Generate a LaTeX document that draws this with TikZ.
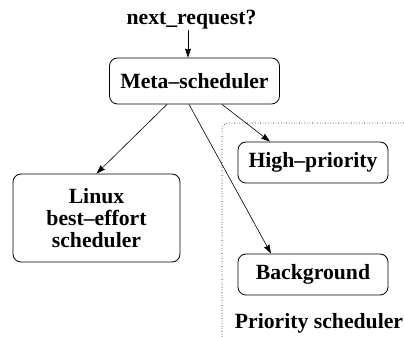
\documentclass[tikz,border=0pt]{standalone}
\usepackage{fontspec}
\setmainfont{Liberation Serif}
\usetikzlibrary{arrows.meta}

\begin{document}
\begin{tikzpicture}[
	x=1pt, y=1pt,
	block/.style={
		rectangle, rounded corners=8pt,
		draw=black, line width=0.8pt,
		inner sep=0pt, align=center,
		font=\fontsize{21.7}{21.7}\selectfont\bfseries
	},
	label/.style={
		inner sep=0pt,
		font=\fontsize{21.7}{21.7}\selectfont\bfseries
	},
	line/.style={draw, line width=0.6pt, -{Stealth[length=9pt, width=6pt, inset=1pt]}},
	group/.style={draw, line width=0.6pt, dotted, rounded corners=6pt},
	]
	\useasboundingbox (0,0) rectangle (404,337);

	\node [label] (req) at (191.5,317) {next\_request?};
	\node [block, minimum width=170pt, minimum height=46pt] (meta) at (194.5,256) {Meta--scheduler};
	\node [block, minimum width=167pt, minimum height=88pt] (linux) at (96.5,119) {Linux\\best--effort\\scheduler};
	\node [block, minimum width=150pt, minimum height=41pt] (high) at (313,174.5) {High--priority};
	\node [block, minimum width=150pt, minimum height=41pt] (bg) at (313,62.5) {Background};
	\node [label] (prio) at (319,14) {Priority scheduler};

	% dotted frame of the priority scheduler
	\coordinate (fbot) at (222,0);
	\coordinate (fcorner) at (222,214);
	\coordinate (fright) at (404,214);
	\path [group] (fbot) -- (fcorner) -- (fright);

	\path [line] ([xshift=-3.5pt]req.south) -- ([xshift=-6.5pt]meta.north);
	\path [line] ([xshift=-27.5pt]meta.south) -- (linux.north);
	\path [line] ([xshift=-5.5pt]meta.south) -- ([xshift=-42pt]bg.north);
	\path [line] ([xshift=27.5pt]meta.south) -- ([xshift=-43pt]high.north);
\end{tikzpicture}
\end{document}
